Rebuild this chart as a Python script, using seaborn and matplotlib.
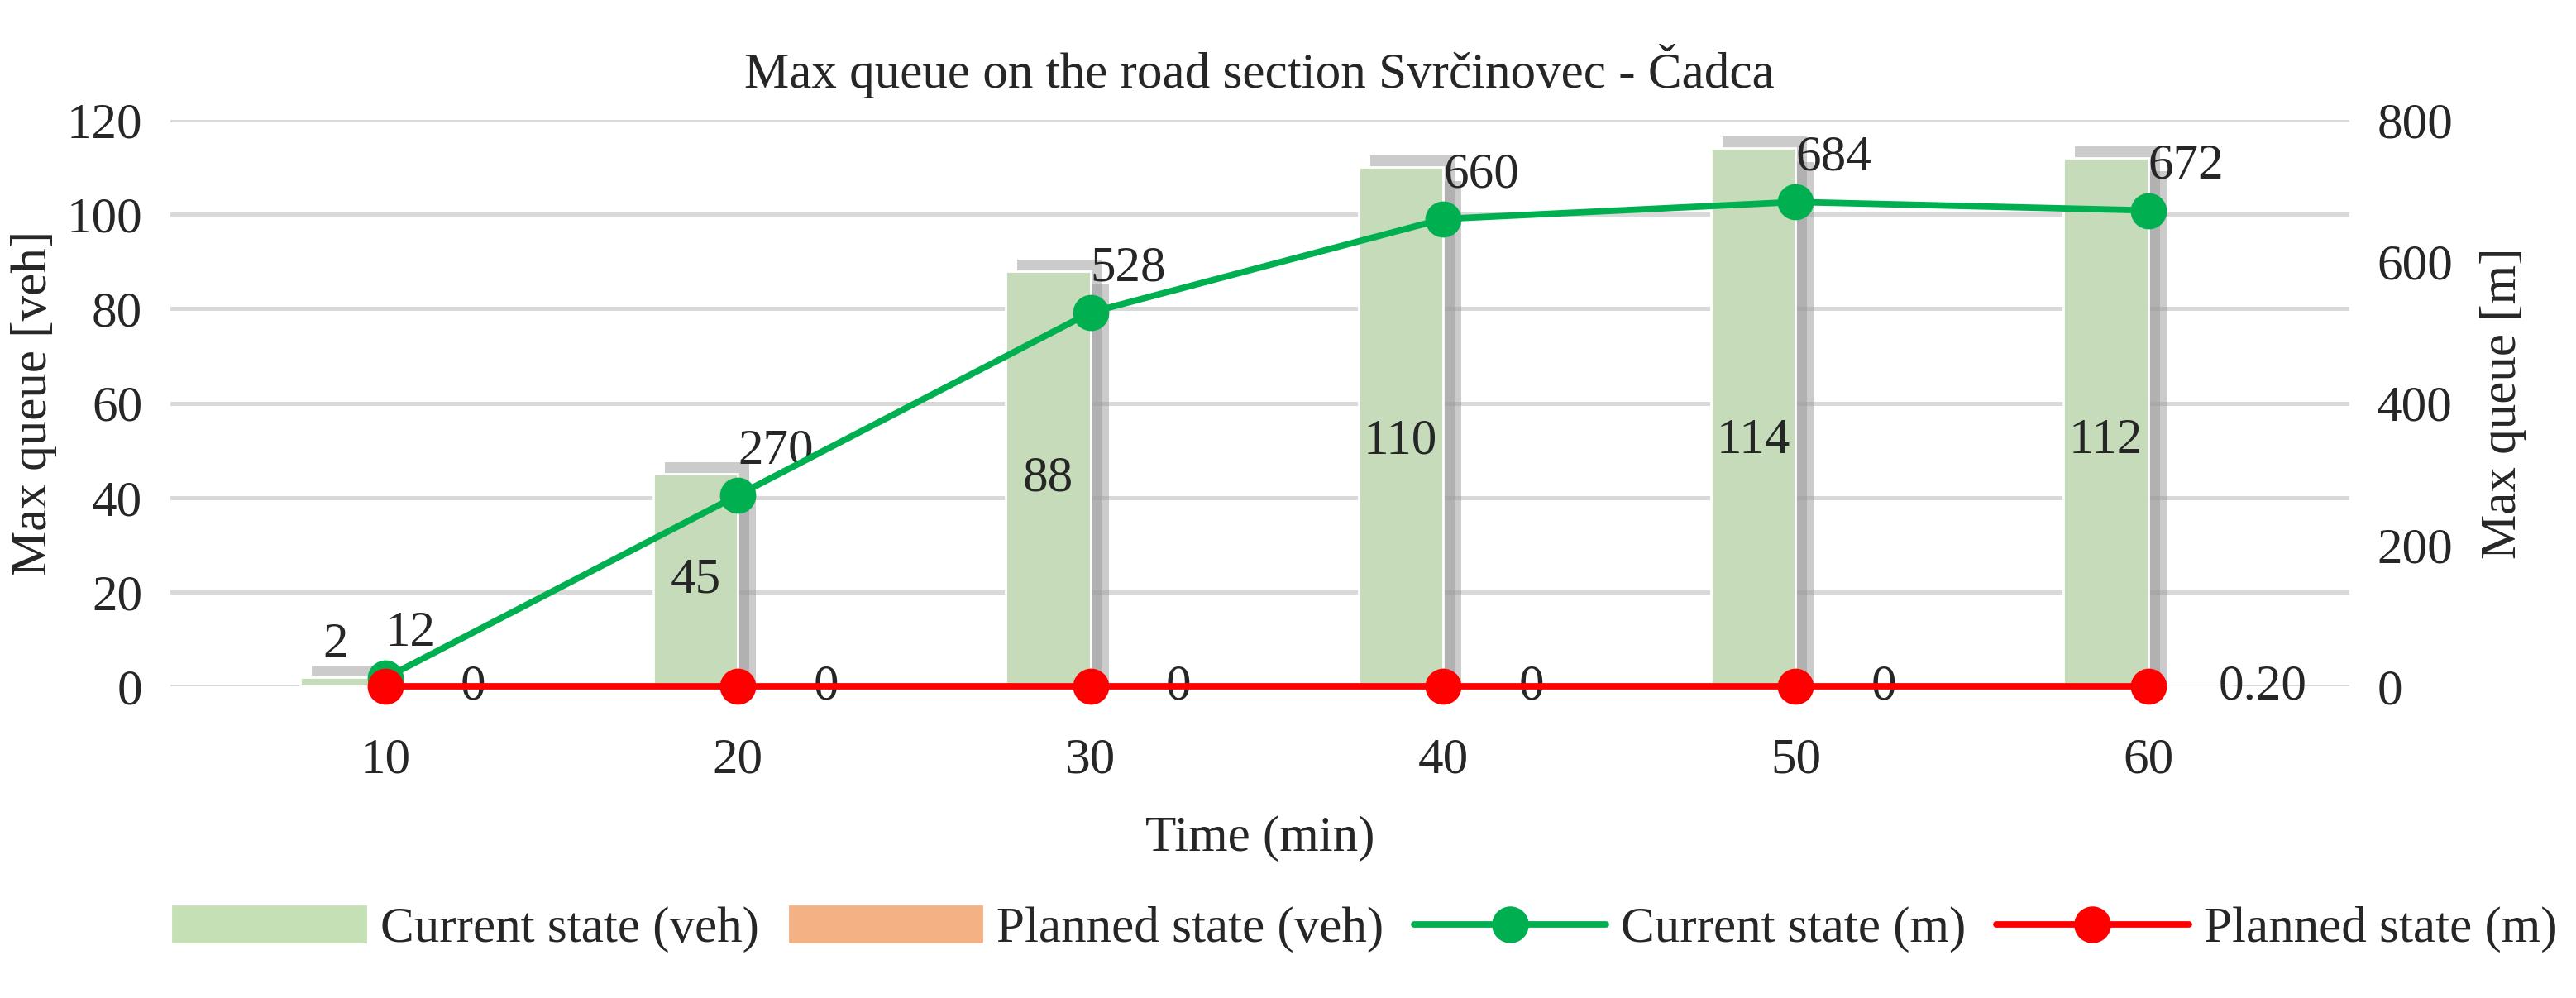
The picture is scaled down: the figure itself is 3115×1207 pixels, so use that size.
import matplotlib
matplotlib.use("Agg")
import matplotlib.pyplot as plt
import matplotlib.patheffects as pe
import seaborn as sns
import pandas as pd
import numpy as np
from matplotlib.lines import Line2D
from matplotlib.patches import Patch

times = ["10", "20", "30", "40", "50", "60"]
cur_veh = [2, 45, 88, 110, 114, 112]
plan_veh = [0, 0, 0, 0, 0, 0]
cur_m = [12, 270, 528, 660, 684, 672]
plan_m = [0, 0, 0, 0, 0, 0]
plan_m_labels = ["0", "0", "0", "0", "0", "0.20"]

sns.set_theme(style="white")
plt.rcParams['font.family'] = ['Liberation Serif', 'DejaVu Serif']
FS = 22

fig = plt.figure(figsize=(15.575, 6.035), dpi=200)
ax = fig.add_axes([0.066, 0.312, 0.846, 0.568])
ax2 = ax.twinx()

df = pd.DataFrame({"Time": times * 2,
                   "veh": cur_veh + plan_veh,
                   "State": ["Current state (veh)"] * 6 + ["Planned state (veh)"] * 6})
sns.barplot(data=df, x="Time", y="veh", hue="State", ax=ax,
            palette=["#c5e0b4", "#f4b183"], width=0.48, legend=False, zorder=3)
for p in ax.patches:
    if p.get_height() > 0:
        p.set_path_effects([pe.SimplePatchShadow(offset=(5, 5), shadow_rgbFace="#999999", alpha=0.5),
                            pe.SimplePatchShadow(offset=(8, -6), shadow_rgbFace="#999999", alpha=0.5),
                            pe.Normal()])

xs = np.arange(len(times))
sns.lineplot(x=xs, y=cur_m, ax=ax2, color="#00b050", lw=2.8, marker="o", markersize=15,
             markeredgecolor="#00b050", zorder=5)
sns.lineplot(x=xs, y=plan_m, ax=ax2, color="#ff0000", lw=2.8, marker="o", markersize=15,
             markeredgecolor="#ff0000", zorder=5)
for l in ax2.lines:
    l.set_clip_on(False)

ax.set_ylim(0, 120)
ax.set_yticks(range(0, 121, 20))
ax2.set_ylim(0, 800)
ax2.set_yticks(range(0, 801, 200))
ax.set_xlim(-0.61, 5.57)
ax.yaxis.grid(True, color="#d9d9d9", lw=1.8)
ax.set_axisbelow(True)
for a in (ax, ax2):
    for s in a.spines.values():
        s.set_visible(False)
    a.tick_params(axis="both", length=0, labelsize=FS, pad=12)
ax.tick_params(axis="x", pad=22)
ax.axhline(0, color="#d9d9d9", lw=1.8, zorder=1)

ax.set_ylabel("Max queue [veh]", fontsize=FS)
ax2.set_ylabel("Max queue [m]", fontsize=FS, labelpad=12)
ax.set_xlabel("Time (min)", fontsize=FS, labelpad=14)
ax.set_title("Max queue on the road section Svrčinovec - Čadca", fontsize=FS, pad=14)

for i, v in enumerate(cur_veh):
    x = i - 0.12
    if v < 10:
        ax.text(x - 0.02, v + 2, str(v), ha="center", va="bottom", fontsize=FS)
    else:
        ax.text(x, v / 2 if v < 100 else 52, str(v), ha="center", va="center", fontsize=FS)
for i, v in enumerate(cur_m):
    ax2.text(i, v + 30, str(v), ha="left", va="bottom", fontsize=FS)
for i, t in enumerate(plan_m_labels):
    if t == "0":
        ax2.text(i + 0.25, 0, t, ha="center", va="center", fontsize=FS)
    else:
        ax2.text(i + 0.2, 0, t, ha="left", va="center", fontsize=FS)

handles = [Patch(color="#c5e0b4", label="Current state (veh)"),
           Patch(color="#f4b183", label="Planned state (veh)"),
           Line2D([], [], color="#00b050", lw=2.8, marker="o", markersize=15, label="Current state (m)"),
           Line2D([], [], color="#ff0000", lw=2.8, marker="o", markersize=15, label="Planned state (m)")]
fig.legend(handles=handles, loc="lower center", ncol=4, frameon=False, fontsize=FS,
           bbox_to_anchor=(0.53, 0.0), handlelength=3.8, columnspacing=0.6, handletextpad=0.3)

fig.savefig("out.png", dpi=200)
